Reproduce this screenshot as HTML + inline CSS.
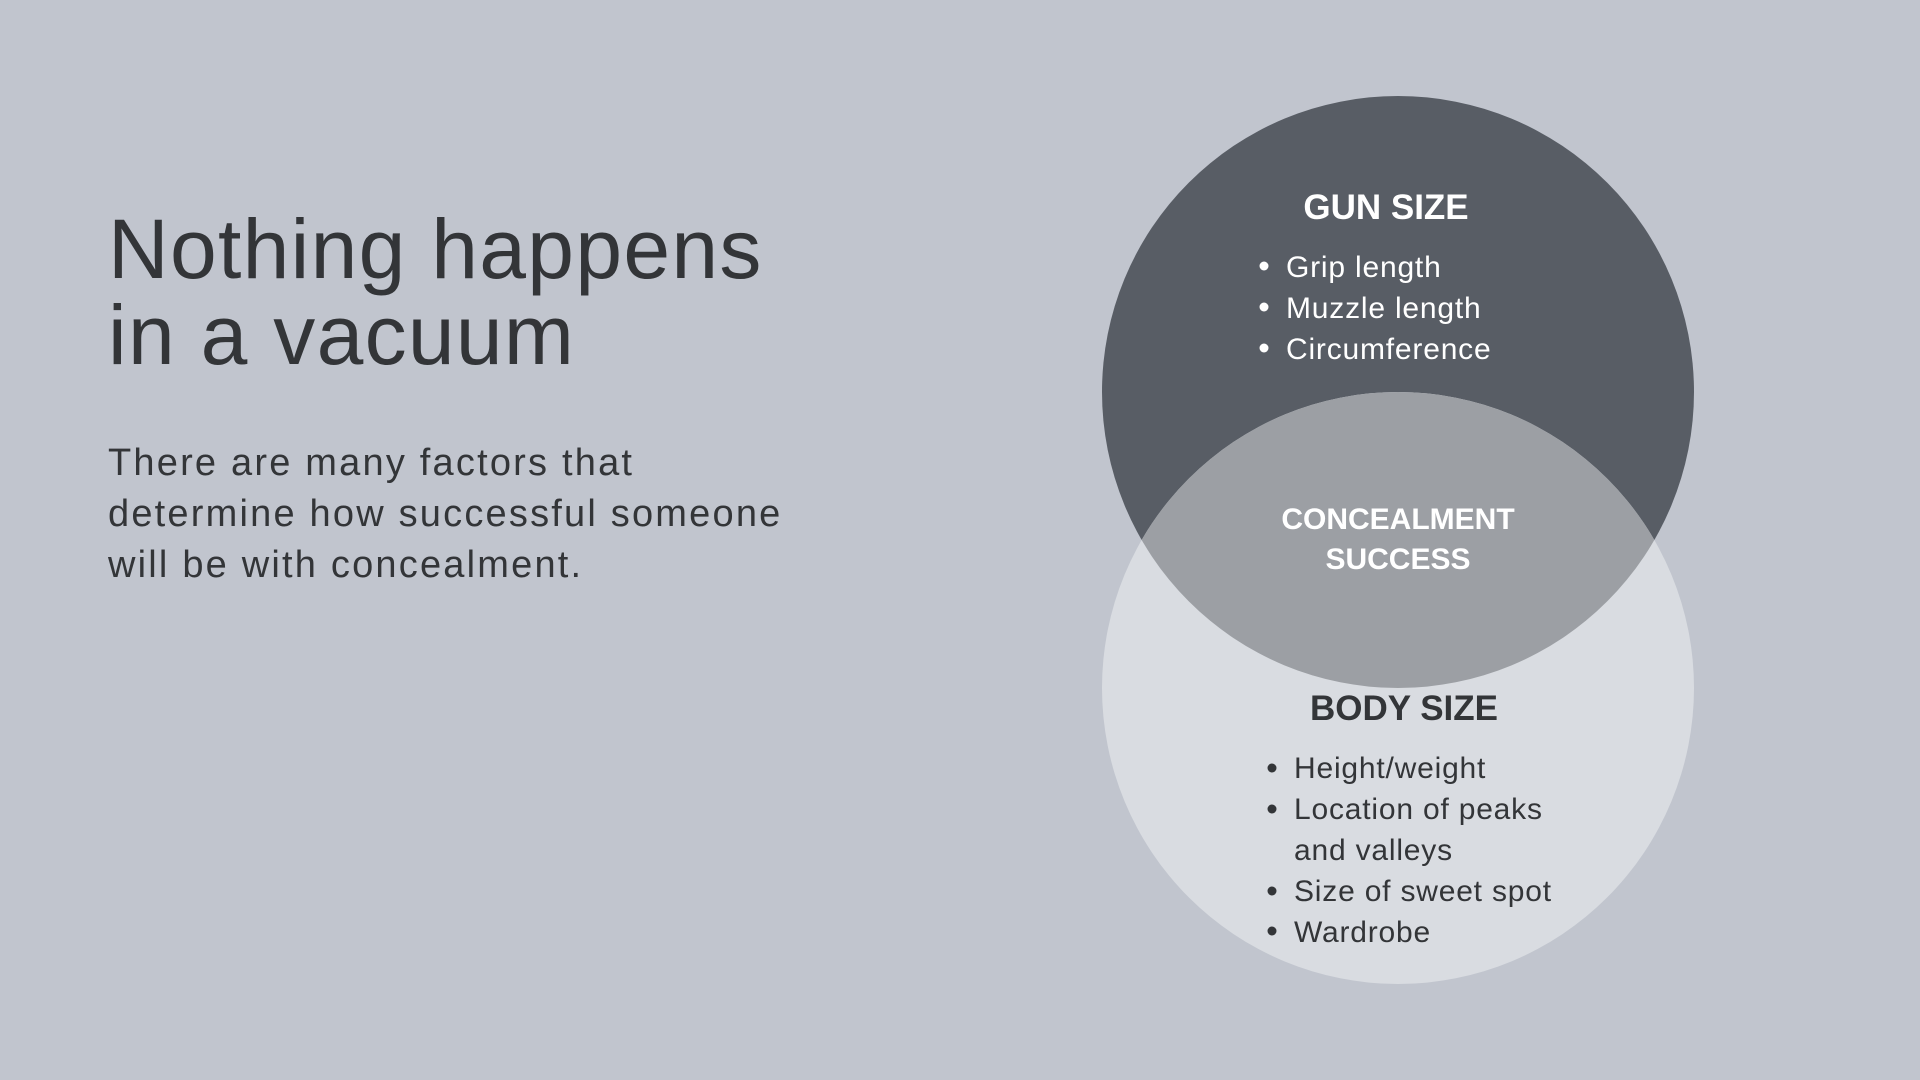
<!DOCTYPE html>
<html><head><meta charset="utf-8"><style>
body{margin:0;width:1920px;height:1080px;background:#c1c5ce;overflow:hidden;font-family:"Liberation Sans",sans-serif}
svg{position:absolute;left:0;top:0}
</style></head><body>
<svg width="1920" height="1080" viewBox="0 0 1920 1080">
<defs><clipPath id="c"><circle cx="1398" cy="392" r="296"/></clipPath></defs>
<circle cx="1398" cy="392" r="296" fill="#585d65"/>
<circle cx="1398" cy="688" r="296" fill="#d9dce1"/>
<circle cx="1398" cy="688" r="296" fill="#9c9fa4" clip-path="url(#c)"/>
<g font-family="Liberation Sans, sans-serif" fill="#333538">
<text x="108" y="278" font-size="84" letter-spacing="1.3">Nothing happens</text>
<text x="108" y="364" font-size="84" letter-spacing="1.3">in a vacuum</text>
<g font-size="38" letter-spacing="2.2">
<text x="108" y="475">There are many factors that</text>
<text x="108" y="526">determine how successful someone</text>
<text x="108" y="577">will be with concealment.</text>
</g>
</g>
<g fill="#fff" font-family="Liberation Sans, sans-serif">
<text x="1386" y="219" font-size="35" font-weight="bold" text-anchor="middle">GUN SIZE</text>
<g font-size="30" letter-spacing="0.8">
<text x="1286" y="277">Grip length</text>
<text x="1286" y="318">Muzzle length</text>
<text x="1286" y="359">Circumference</text>
</g>
<circle cx="1264" cy="266" r="4.5"/><circle cx="1264" cy="307" r="4.5"/><circle cx="1264" cy="348" r="4.5"/>
<text x="1398" y="529" font-size="30" font-weight="bold" text-anchor="middle">CONCEALMENT</text>
<text x="1398" y="569" font-size="30" font-weight="bold" text-anchor="middle">SUCCESS</text>
</g>
<g fill="#333538" font-family="Liberation Sans, sans-serif">
<text x="1404" y="720" font-size="35" font-weight="bold" text-anchor="middle">BODY SIZE</text>
<g font-size="30" letter-spacing="0.8">
<text x="1294" y="778">Height/weight</text>
<text x="1294" y="819">Location of peaks</text>
<text x="1294" y="860">and valleys</text>
<text x="1294" y="901">Size of sweet spot</text>
<text x="1294" y="942">Wardrobe</text>
</g>
<circle cx="1272" cy="768" r="4.5"/><circle cx="1272" cy="809" r="4.5"/><circle cx="1272" cy="891" r="4.5"/><circle cx="1272" cy="931" r="4.5"/>
</g>
</svg>
</body></html>
